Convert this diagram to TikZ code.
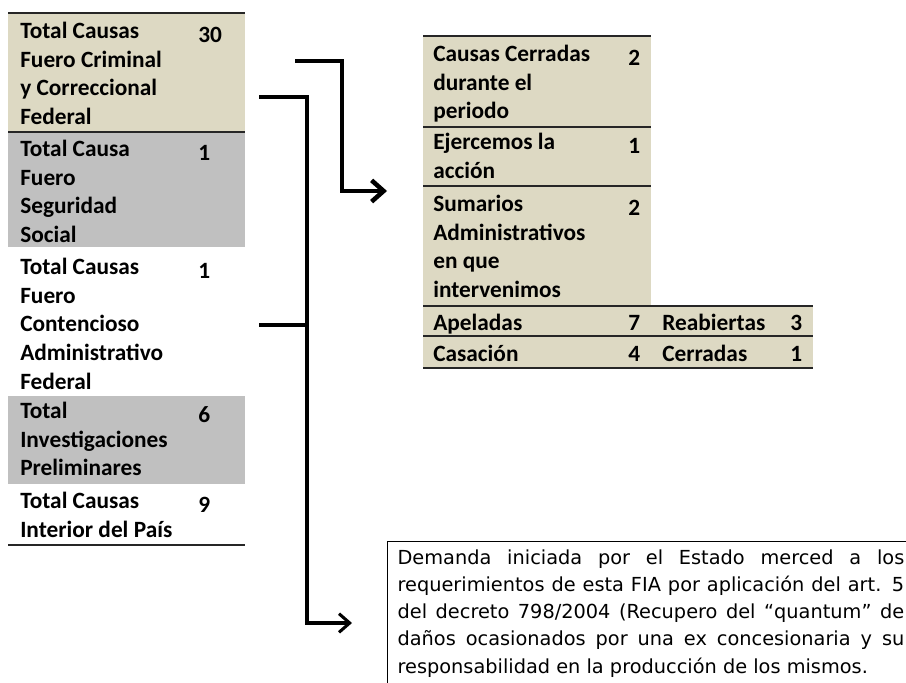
\documentclass[tikz,border=0pt]{standalone}
\usepackage{fontspec}
\setmainfont{Carlito}
\newfontfamily\notefont{DejaVu Sans}
\usetikzlibrary{arrows.meta,positioning}
\definecolor{tabletan}{HTML}{DDD9C3}
\definecolor{tablegray}{HTML}{C0C0C0}

\begin{document}
\begin{tikzpicture}[
    x=0.75pt, y=-0.75pt,
    cell/.style={font=\fontsize{17.5}{21.5}\selectfont\bfseries, align=left,
      inner sep=0pt, anchor=north west, yshift=11.3pt,
      execute at begin node={\rule{0pt}{15.05pt}}},
    rule/.style={line width=1.2pt, draw=black!85},
    note/.style={draw, line width=0.9pt, anchor=north west, align=justify,
      text width=380pt, inner xsep=7.5pt, inner ysep=6pt,
      font=\notefont\fontsize{14.5}{20.4}\selectfont},
    bigarrow/.style={line width=3.4pt, -{Straight Barb[length=9pt, width=16pt]}},
    bracket/.style={line width=2.3pt},
    smallarrow/.style={bracket, -{Straight Barb[length=8pt, width=14pt]}}
  ]
    \useasboundingbox (0,0) rectangle (906,682);
    \clip (0,0) rectangle (906,682);

    % left table
    \fill[tabletan] (8,13) rectangle (245,132);
    \fill[tablegray] (8,132) rectangle (245,247);
    \fill[tablegray] (8,396) rectangle (245,484);
    \draw[rule] (8,13) -- (245,13);
    \draw[rule] (8,132) -- (245,132);
    \draw[rule] (8,545) -- (245,545);

    \node[cell] (crim) at (20,37) {Total Causas\\Fuero Criminal\\y Correccional\\Federal};
    \node[cell] (crimnum) at (198,37) {30};
    \node[cell] (segu) at (20,155) {Total Causa\\Fuero\\Seguridad\\Social};
    \node[cell] (segunum) at (198,155) {1};
    \node[cell] (cont) at (20,273) {Total Causas\\Fuero\\Contencioso\\Administrativo\\Federal};
    \node[cell] (contnum) at (198,273) {1};
    \node[cell] (inve) at (20,417) {Total\\Investigaciones\\Preliminares};
    \node[cell] (invenum) at (198,417) {6};
    \node[cell] (inte) at (20,507) {Total Causas\\Interior del País};
    \node[cell] (intenum) at (198,507) {9};

    % right table
    \fill[tabletan] (423,36) rectangle (651,306);
    \fill[tabletan] (423,306) rectangle (813,368);
    \foreach \y in {36,127,186} \draw[rule] (423,\y) -- (651,\y);
    \foreach \y in {306,336,368} \draw[rule] (423,\y) -- (813,\y);

    \node[cell] (cerr) at (433,60) {Causas Cerradas\\durante el\\periodo};
    \node[cell] (cerrnum) at (628,60) {2};
    \node[cell] (ejer) at (433,148) {Ejercemos la\\acción};
    \node[cell] (ejernum) at (628,148) {1};
    \node[cell] (suma) at (433,210) {Sumarios\\Administrativos\\en que\\intervenimos};
    \node[cell] (sumanum) at (628,210) {2};
    \node[cell] (apel) at (433,325) {Apeladas};
    \node[cell] (apelnum) at (628,325) {7};
    \node[cell] (reab) at (662,325) {Reabiertas};
    \node[cell] (reabnum) at (790,325) {3};
    \node[cell] (casa) at (433,356) {Casación};
    \node[cell] (casanum) at (628,356) {4};
    \node[cell] (cerd) at (662,356) {Cerradas};
    \node[cell] (cerdnum) at (790,356) {1};

    % note
    \node[note] (demanda) at (387,541) {Demanda iniciada por el Estado merced a los\linebreak
      requerimientos de esta FIA por aplicación del art. 5\linebreak
      del decreto 798/2004 (Recupero del “quantum” de\linebreak
      daños ocasionados por una ex concesionaria y su\linebreak
      responsabilidad en la producción de los mismos.};

    % arrows
    \coordinate (upstart) at (295,61);
    \coordinate (upend) at (387,191);
    \coordinate (brtop) at (259,97);
    \coordinate (brmid) at (259,325);
    \coordinate (brend) at (352,623);

    \draw[bigarrow] (upstart) -- ++(47,0) |- (upend);
    \draw[smallarrow] (brtop) -- ++(48,0) |- (brend);
    \draw[bracket] (brmid) -- ++(48,0);
\end{tikzpicture}
\end{document}
